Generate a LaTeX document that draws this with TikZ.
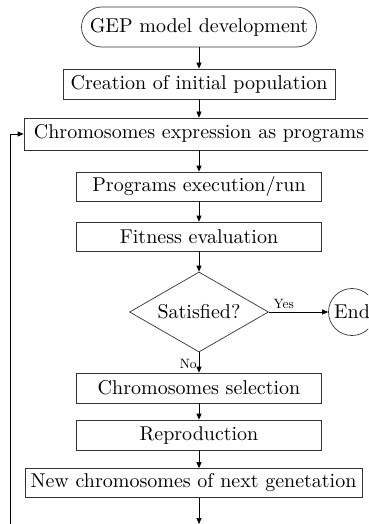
\documentclass[tikz,border=0pt]{standalone}
\usepackage{fontspec}
\setmainfont{lmroman10-regular.otf}
\usetikzlibrary{arrows.meta,shapes.geometric,shapes.misc}
\begin{document}
\begin{tikzpicture}[x=1pt,y=-1pt,
  every node/.style={inner sep=0pt,font=\fontsize{20}{22}\selectfont},
  proc/.style={draw=black!80,line width=0.7pt,rectangle,minimum height=30pt},
  term/.style={draw=black!80,line width=0.7pt,rounded rectangle,minimum height=40pt,minimum width=235pt},
  decis/.style={draw=black!80,line width=0.7pt,diamond,aspect=1.74,minimum width=139pt,minimum height=80pt},
  endc/.style={draw=black!80,line width=0.7pt,circle,minimum size=47pt},
  lbl/.style={font=\fontsize{13.5}{15}\selectfont},
  conn/.style={draw=black,line width=0.7pt,-{Triangle[length=6pt,width=5pt]}}
]
\useasboundingbox (0,0) rectangle (368,524);
\clip (0,0) rectangle (368,524);
\node[term] (gep) at (199,27) {GEP model development};
\node[proc,minimum width=272pt] (create) at (199,84) {Creation of initial population};
\node[proc,minimum width=350pt,minimum height=32pt] (chrom) at (199,134) {Chromosomes expression as programs};
\node[proc,minimum width=245pt,minimum height=29pt] (prog) at (199,186.5) {Programs execution/run};
\node[proc,minimum width=245pt,minimum height=29pt] (fit) at (199,236.5) {Fitness evaluation};
\node[decis] (dec) at (199,312) {Satisfied?};
\node[endc] (end) at (352,312) {End};
\node[proc,minimum width=245pt] (sel) at (199,388) {Chromosomes selection};
\node[proc,minimum width=245pt] (rep) at (199,435) {Reproduction};
\node[proc,minimum width=337pt,minimum height=29pt] (new) at (193.5,483) {New chromosomes of next genetation};
\coordinate (bot) at (199,524);
\coordinate (loopbot) at (10,524);

\draw[conn] (gep.south) -- (create.north);
\draw[conn] (create.south) -- (chrom.north);
\draw[conn] (chrom.south) -- (prog.north);
\draw[conn] (prog.south) -- (fit.north);
\draw[conn] (fit.south) -- (dec.north);
\draw[conn] (dec.east) -- node[lbl,above=3pt,pos=0.25] (yes) {Yes} (end.west);
\draw[conn] (dec.south) -- node[lbl,left=2pt,pos=0.55] (no) {No} (sel.north);
\draw[conn] (sel.south) -- (rep.north);
\draw[conn] (rep.south) -- (rep.south |- new.north);
\draw[conn] (new.south -| bot) -- (bot);
\draw[conn] (loopbot) |- (chrom.west);
\end{tikzpicture}
\end{document}
